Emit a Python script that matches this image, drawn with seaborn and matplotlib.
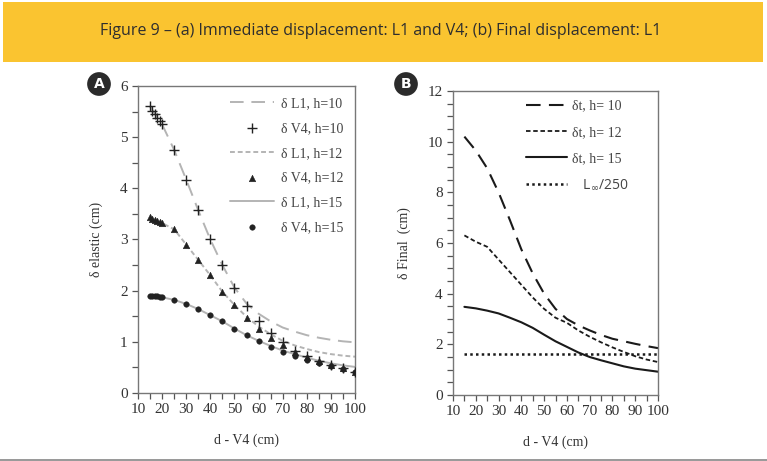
import numpy as np
import pandas as pd
import seaborn as sns
import matplotlib.pyplot as plt
from matplotlib.patches import Rectangle
from matplotlib.ticker import MultipleLocator

# ------------------------------------------------------------------
# data
# ------------------------------------------------------------------
d_pts = [15, 16, 17, 18, 19, 20, 25, 30, 35, 40, 45, 50, 55, 60, 65, 70, 75, 80, 85, 90, 95, 100]
v4_h10 = [5.60, 5.52, 5.45, 5.38, 5.32, 5.25, 4.75, 4.17, 3.57, 3.00, 2.50, 2.06, 1.70, 1.41, 1.18,
          1.00, 0.83, 0.72, 0.62, 0.55, 0.48, 0.42]
v4_h12 = [3.43, 3.41, 3.39, 3.37, 3.35, 3.32, 3.20, 2.90, 2.60, 2.30, 1.98, 1.72, 1.47, 1.26, 1.08,
          0.93, 0.80, 0.70, 0.62, 0.55, 0.48, 0.42]
v4_h15 = [1.90, 1.90, 1.90, 1.89, 1.88, 1.87, 1.82, 1.74, 1.64, 1.52, 1.40, 1.26, 1.13, 1.01, 0.90,
          0.80, 0.72, 0.65, 0.58, 0.52, 0.46, 0.41]

d_line = [15, 20, 25, 30, 35, 40, 45, 50, 55, 60, 65, 70, 75, 80, 85, 90, 95, 100]
l1_h10 = [5.60, 5.25, 4.75, 4.17, 3.57, 3.00, 2.50, 2.06, 1.75, 1.55, 1.40, 1.28, 1.20, 1.13, 1.08,
          1.04, 1.01, 0.99]
l1_h12 = [3.43, 3.32, 3.20, 2.90, 2.60, 2.30, 1.98, 1.72, 1.49, 1.30, 1.15, 1.02, 0.93, 0.86, 0.80,
          0.76, 0.73, 0.71]
l1_h15 = [1.90, 1.87, 1.82, 1.74, 1.64, 1.52, 1.40, 1.26, 1.13, 1.02, 0.92, 0.83, 0.76, 0.69, 0.63,
          0.58, 0.54, 0.51]

dt_h10 = [10.2, 9.65, 8.95, 8.0, 6.9, 5.75, 4.8, 4.0, 3.4, 3.0, 2.75, 2.55, 2.37, 2.22, 2.12,
          2.02, 1.93, 1.85]
dt_h12 = [6.3, 6.05, 5.85, 5.35, 4.85, 4.35, 3.85, 3.4, 3.05, 2.85, 2.55, 2.3, 2.08, 1.88, 1.7,
          1.53, 1.4, 1.3]
dt_h15 = [3.48, 3.42, 3.33, 3.22, 3.05, 2.87, 2.65, 2.38, 2.12, 1.9, 1.68, 1.5, 1.37, 1.25, 1.13,
          1.04, 0.98, 0.92]
limit = [1.6] * len(d_line)   # L_inf / 250

title = 'Figure 9 – (a) Immediate displacement: L1 and V4; (b) Final displacement: L1'

# ------------------------------------------------------------------
# style
# ------------------------------------------------------------------
sns.set_style('white')
plt.rcParams['font.family'] = ['Liberation Serif', 'DejaVu Serif']

fig = plt.figure(figsize=(7.67, 4.61), dpi=100)

# yellow banner
fig.patches.append(Rectangle((3 / 767, 1 - 62 / 461), 760 / 767, 60 / 461,
                             transform=fig.transFigure, fc='#fac430', ec='none', zorder=0))
fig.text(381 / 767, 1 - 31 / 461, title, ha='center', va='center', fontsize=11.5,
         family='Open Sans', fontweight='medium', color='#2e2e2e')
fig.patches.append(Rectangle((0, 0), 1, 2 / 461, transform=fig.transFigure,
                             fc='#9a9a9a', ec='none'))

axA = fig.add_axes([138 / 767, 1 - 393 / 461, 217 / 767, 307 / 461])
axB = fig.add_axes([453 / 767, 1 - 395 / 461, 205 / 767, 304 / 461])

gray = '#b4b4b4'
dark = '#222222'

# ---- panel A ----
sns.lineplot(x=d_line, y=l1_h10, ax=axA, color=gray, lw=1.4,
             linestyle=(0, (7, 4)), label='δ L1, h=10')
sns.scatterplot(x=d_pts, y=v4_h10, ax=axA, marker='+', s=45, color=dark, linewidth=1.0,
                label='δ V4, h=10', zorder=3)
sns.lineplot(x=d_line, y=l1_h12, ax=axA, color=gray, lw=1.4, linestyle=(0, (2.5, 1.5)),
             label='δ L1, h=12')
sns.scatterplot(x=d_pts, y=v4_h12, ax=axA, marker='^', s=22, color=dark, edgecolor=dark,
                label='δ V4, h=12', zorder=3)
sns.lineplot(x=d_line, y=l1_h15, ax=axA, color=gray, lw=1.4, label='δ L1, h=15')
sns.scatterplot(x=d_pts, y=v4_h15, ax=axA, marker='o', s=16, color=dark, edgecolor=dark,
                label='δ V4, h=15', zorder=3)

axA.set_xlim(10, 100)
axA.set_ylim(0, 6)
axA.xaxis.set_major_locator(MultipleLocator(10))
axA.xaxis.set_minor_locator(MultipleLocator(5))
axA.yaxis.set_major_locator(MultipleLocator(1))
axA.yaxis.set_minor_locator(MultipleLocator(0.5))
axA.set_xlabel('d - V4 (cm)', fontsize=10, color='#333333', labelpad=12)
axA.set_ylabel('δ elastic (cm)', fontsize=10, color='#333333', labelpad=12)
legA = axA.legend(loc='upper right', frameon=False, fontsize=10, handlelength=3.2,
                  labelspacing=0.85, borderaxespad=0.4, handletextpad=0.5)
for t in legA.get_texts():
    t.set_color('#444444')

# ---- panel B ----
sns.lineplot(x=d_line, y=dt_h10, ax=axB, color='#1a1a1a', lw=1.5, linestyle=(0, (7, 4)),
             label='δt, h= 10')
sns.lineplot(x=d_line, y=dt_h12, ax=axB, color='#1a1a1a', lw=1.3, linestyle=(0, (2.5, 1.5)),
             label='δt, h= 12')
sns.lineplot(x=d_line, y=dt_h15, ax=axB, color='#1a1a1a', lw=1.5, label='δt, h= 15')
sns.lineplot(x=d_line, y=limit, ax=axB, color='#1a1a1a', lw=1.8, linestyle=(0, (1, 1.3)),
             label='   L$_{\\infty}$/250')

axB.set_xlim(10, 100)
axB.set_ylim(0, 12)
axB.xaxis.set_major_locator(MultipleLocator(10))
axB.xaxis.set_minor_locator(MultipleLocator(5))
axB.yaxis.set_major_locator(MultipleLocator(2))
axB.yaxis.set_minor_locator(MultipleLocator(0.5))
axB.set_xlabel('d - V4 (cm)', fontsize=10, color='#333333', labelpad=12)
axB.set_ylabel('δ Final  (cm)', fontsize=10, color='#333333', labelpad=12)
legB = axB.legend(loc='upper right', frameon=False, fontsize=10, handlelength=3.0,
                  labelspacing=0.95, borderaxespad=0.5, handletextpad=0.35,
                  bbox_to_anchor=(0.92, 1.013))
for t in legB.get_texts():
    t.set_color('#444444')
legB.get_texts()[-1].set_family('Open Sans')

for ax in (axA, axB):
    for sp in ax.spines.values():
        sp.set_color('#777777')
        sp.set_linewidth(1.0)
    ax.tick_params(which='both', direction='out', length=4, width=0.9, color='#555555',
                   labelsize=11, labelcolor='#333333', left=True, bottom=True)

# panel letters
for x, letter in [(99, 'A'), (406, 'B')]:
    fig.text(x / 767, 1 - 84 / 461, letter, ha='center', va='center', fontsize=10,
             family='DejaVu Sans', fontweight='bold', color='white',
             bbox=dict(boxstyle='circle,pad=0.35', fc='#2b2b2b', ec='none'))

fig.savefig('out.png', dpi=100)
